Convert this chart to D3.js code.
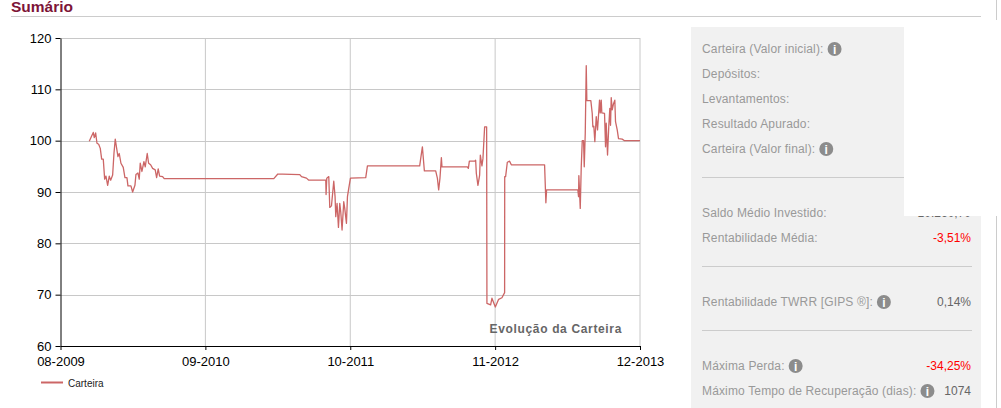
<!DOCTYPE html>
<html lang="pt">

<head>
  <meta charset="utf-8">
  <title>Sumário</title>
  <script src="https://d3js.org/d3.v7.min.js"></script>
  <style>
    html, body { margin: 0; padding: 0; background: #fff; overflow: hidden; }
    svg { display: block; font-family: "Liberation Sans", Arial, sans-serif; }
  </style>
</head>

<body>
  <script>
    //config
    const width = 1001, height = 408;
    const margin = { top: 38, right: 361, bottom: 62, left: 60.5 };
    const innerWidth = width - margin.left - margin.right;
    const innerHeight = height - margin.top - margin.bottom;

    // data
    const xTickPos = [0, 145, 290, 435, 580];
    const xTickLabels = ["08-2009", "09-2010", "10-2011", "11-2012", "12-2013"];
    const yTicks = [60, 70, 80, 90, 100, 110, 120];
    const sampleIdx = [
      28.8, 30.5, 32.8, 33.8, 35.2, 36.5, 38.2, 39.8, 41.2, 42.8, 44.2, 45.5, 47.2, 48.8, 50.2, 52.2,
      53.5, 54.8, 56.2, 57.5, 58.8, 60.5, 62.8, 64.5, 66.5, 67.5, 70.5, 72.2, 74.5, 75.5, 77.5, 78.8,
      79.8, 81.5, 83.5, 84.8, 86.8, 88.2, 90.2, 92.2, 94.8, 96.2, 97.8, 99.2, 102.2, 103.8,
      213.5, 217.5, 222.2, 239.5, 241.2, 246.2, 248.5, 264.5, 265.5, 265.8, 266.5, 268.5, 269.5, 271.2,
      273.5, 274.8, 275.5, 276.8, 278.2, 279.5, 280.5, 281.8, 283.5, 284.5, 286.2, 287.2, 288.5, 290.2,
      305.5, 307.2, 359.5, 360.5, 362.2, 364.2, 375.5, 377.2, 378.5, 379.8, 381.2, 381.8, 407.2, 408.2,
      409.2, 414.8, 415.5, 416.2, 417.8, 419.5, 420.2, 421.8, 422.8, 424.5, 426.5, 426.8,
      430.5, 431.8, 435.2, 438.5, 441.8, 444.5, 444.6, 445.5, 447.2, 449.5, 451.2, 484.5, 485.8, 486.5,
      517.8, 518.5, 518.8, 520.2, 521.2, 522.2, 523.5, 524.2, 525.2, 526.2, 526.8, 530.8, 532.2, 532.8,
      533.8, 534.8, 536.2, 537.5, 539.5, 540.2, 541.2, 541.8, 544.5, 545.5, 546.2, 547.5, 548.8, 549.8,
      550.5, 551.2, 552.2, 553.5, 554.8, 555.5, 557.2, 558.5, 562.2, 564.5, 580
    ];
    const carteira = [
      99.9, 100.6, 101.6, 100.6, 101.5, 99.5, 99.3, 98.5, 96.4, 96.4, 92.5, 93.1, 91.3, 93.1, 92.3, 93.3,
      97.5, 100.3, 98.5, 96.9, 97.5, 95.6, 94.8, 92.8, 92.8, 91.2, 91.2, 90.0, 91.3, 93.4, 93.7, 92.5,
      95.6, 94.0, 95.9, 94.9, 97.5, 95.6, 95.3, 94.6, 94.3, 92.8, 94.5, 93.1, 93.0, 92.6,
      92.6, 93.5, 93.5, 93.4, 93.0, 92.7, 92.3, 92.3, 92.3, 89.5, 92.7, 93.0, 87.0, 87.3,
      92.1, 89.1, 85.2, 87.8, 83.1, 87.8, 86.1, 82.6, 88.1, 86.8, 83.9, 89.1, 90.7, 92.7,
      92.8, 95.1, 95.1, 96.5, 98.8, 94.1, 94.1, 92.7, 90.4, 92.7, 96.7, 94.9, 94.9, 94.6,
      96.0, 96.0, 96.2, 93.6, 91.3, 93.3, 97.2, 95.1, 96.5, 102.7, 102.7, 68.3,
      68.0, 69.3, 67.6, 69.1, 69.4, 70.4, 93.0, 93.0, 95.8, 96.0, 95.3, 95.3, 87.9, 90.4,
      90.4, 89.1, 93.2, 86.8, 94.9, 100.0, 100.0, 94.9, 101.4, 114.6, 107.8, 107.8, 105.3, 102.7,
      102.8, 99.8, 104.7, 102.1, 107.9, 105.4, 107.9, 105.4, 105.3, 98.8, 103.4, 97.2, 103.0, 106.3,
      103.0, 108.4, 106.0, 107.2, 107.9, 103.7, 102.1, 100.4, 100.3, 100.0, 100.0
    ];
    const seriesName = "Carteira";
    const chartLabel = "Evolução da Carteira";

    // right hand panel
    const panelTop = ["Carteira (Valor inicial):", "Depósitos:", "Levantamentos:", "Resultado Apurado:", "Carteira (Valor final):"];
    const panelTopInfo = [true, false, false, false, true];
    const panelRows = [
      { label: "Saldo Médio Investido:", value: "10.260,70", color: "#666", info: false, y: 217 },
      { label: "Rentabilidade Média:", value: "-3,51%", color: "#f00", info: false, y: 242 },
      { label: "Rentabilidade TWRR [GIPS ®]:", value: "0,14%", color: "#666", info: true, y: 306 },
      { label: "Máxima Perda:", value: "-34,25%", color: "#f00", info: true, y: 370 },
      { label: "Máximo Tempo de Recuperação (dias):", value: "1074", color: "#666", info: true, y: 395 }
    ];
    const panelRules = [266.5, 330.5];

    //svg structure
    const svg = d3.select("body").append("svg")
      .attr("width", width).attr("height", height);

    // title
    svg.append("text").attr("x", 11).attr("y", 12)
      .style("font-size", "15.5px").style("font-weight", "bold").style("fill", "#7d1538")
      .text("Sumário");
    svg.append("line").attr("x1", 11).attr("x2", 981).attr("y1", 16.5).attr("y2", 16.5)
      .style("stroke", "#ccc");

    const x = d3.scaleLinear().domain([0, 580]).range([0, innerWidth]);
    const y = d3.scaleLinear().domain([60, 120]).range([innerHeight, 0]);

    const mainGroup = svg.append("g").attr("id", "maingroup")
      .attr("transform", `translate(${margin.left}, ${margin.top})`);

    // grid
    mainGroup.selectAll("line.gridY").data(yTicks.slice(1)).join("line").classed("gridY", true)
      .attr("x1", 0).attr("x2", innerWidth)
      .attr("y1", d => Math.round(y(d)) + 0.5).attr("y2", d => Math.round(y(d)) + 0.5)
      .style("stroke", "#c8c8c8");
    mainGroup.selectAll("line.gridX").data(xTickPos.slice(1)).join("line").classed("gridX", true)
      .attr("x1", d => x(d)).attr("x2", d => x(d))
      .attr("y1", 0).attr("y2", innerHeight)
      .style("stroke", "#c8c8c8");

    // axes
    const yAxis = d3.axisLeft(y).tickValues(yTicks).tickSize(5).tickPadding(4).tickSizeOuter(0);
    const xAxis = d3.axisBottom(x).tickValues(xTickPos)
      .tickFormat((d, i) => xTickLabels[i]).tickSize(4).tickPadding(7).tickSizeOuter(0);
    const yG = mainGroup.append("g").call(yAxis);
    const xG = mainGroup.append("g").attr("transform", `translate(0, ${innerHeight})`).call(xAxis);
    for (const g of [yG, xG]) {
      g.select(".domain").style("stroke", "#000");
      g.selectAll(".tick line").style("stroke", "#000");
      g.selectAll("text").style("font-size", "13px").style("font-family", '"Liberation Sans", Arial, sans-serif').style("fill", "#000");
    }

    // series
    const lineGen = d3.line().x(d => x(d[0])).y(d => y(d[1]));
    mainGroup.append("path")
      .datum(d3.zip(sampleIdx, carteira))
      .attr("d", lineGen)
      .style("fill", "none").style("stroke", "#cc6666").style("stroke-width", 1.3)
      .style("stroke-linejoin", "round");

    mainGroup.append("text").attr("x", innerWidth - 18).attr("y", 295)
      .attr("text-anchor", "end")
      .style("font-size", "12px").style("font-weight", "bold").style("letter-spacing", "0.65px").style("fill", "#666")
      .text(chartLabel);

    // legend
    svg.append("line").attr("x1", 41).attr("x2", 63).attr("y1", 382.5).attr("y2", 382.5)
      .style("stroke", "#cc6666").style("stroke-width", 2);
    svg.append("text").attr("x", 68).attr("y", 387)
      .style("font-size", "10px").style("fill", "#222").text(seriesName);

    // panel
    function infoIcon(cx, cy) {
      const g = svg.append("g").attr("transform", `translate(${cx}, ${cy})`);
      g.append("circle").attr("r", 7).style("fill", "#8c8c8c");
      g.append("text").attr("text-anchor", "middle").attr("y", 4.5)
        .style("font-size", "12px").style("font-weight", "bold").style("fill", "#fff").text("i");
    }

    svg.append("rect").attr("x", 691).attr("y", 27).attr("width", 213).attr("height", 189).style("fill", "#f1f1f1");
    svg.append("rect").attr("x", 691).attr("y", 216).attr("width", 290).attr("height", 192).style("fill", "#f1f1f1");

    const labelStyle = sel => sel.style("font-size", "12px").style("letter-spacing", "0.15px").style("fill", "#999");

    panelRows.forEach(r => {
      const t = svg.append("text").attr("x", 702).attr("y", r.y).call(labelStyle).text(r.label);
      if (r.info) infoIcon(702 + t.node().getComputedTextLength() + 11, r.y - 4);
      svg.append("text").attr("x", 971).attr("y", r.y).attr("text-anchor", "end")
        .style("font-size", "12px").style("fill", r.color).text(r.value);
    });

    // the source picture is blanked over here, only the foot of the first value shows
    svg.append("rect").attr("x", 904).attr("y", 20).attr("width", 97).attr("height", 196).style("fill", "#fff");

    // thin page rule at the far right, broken by the blanked area
    svg.append("line").attr("x1", 996.5).attr("x2", 996.5).attr("y1", 0).attr("y2", 20).style("stroke", "#ccc");
    svg.append("line").attr("x1", 996.5).attr("x2", 996.5).attr("y1", 216).attr("y2", 408).style("stroke", "#ccc");

    panelTop.forEach((label, i) => {
      const rowY = 53 + i * 25;
      const t = svg.append("text").attr("x", 702).attr("y", rowY).call(labelStyle).text(label);
      if (panelTopInfo[i]) infoIcon(702 + t.node().getComputedTextLength() + 11, rowY - 4);
    });

    svg.append("line").attr("x1", 702).attr("x2", 904).attr("y1", 177.5).attr("y2", 177.5).style("stroke", "#ccc");
    panelRules.forEach(ry => {
      svg.append("line").attr("x1", 702).attr("x2", 972).attr("y1", ry).attr("y2", ry).style("stroke", "#ccc");
    });
  </script>
</body>

</html>
